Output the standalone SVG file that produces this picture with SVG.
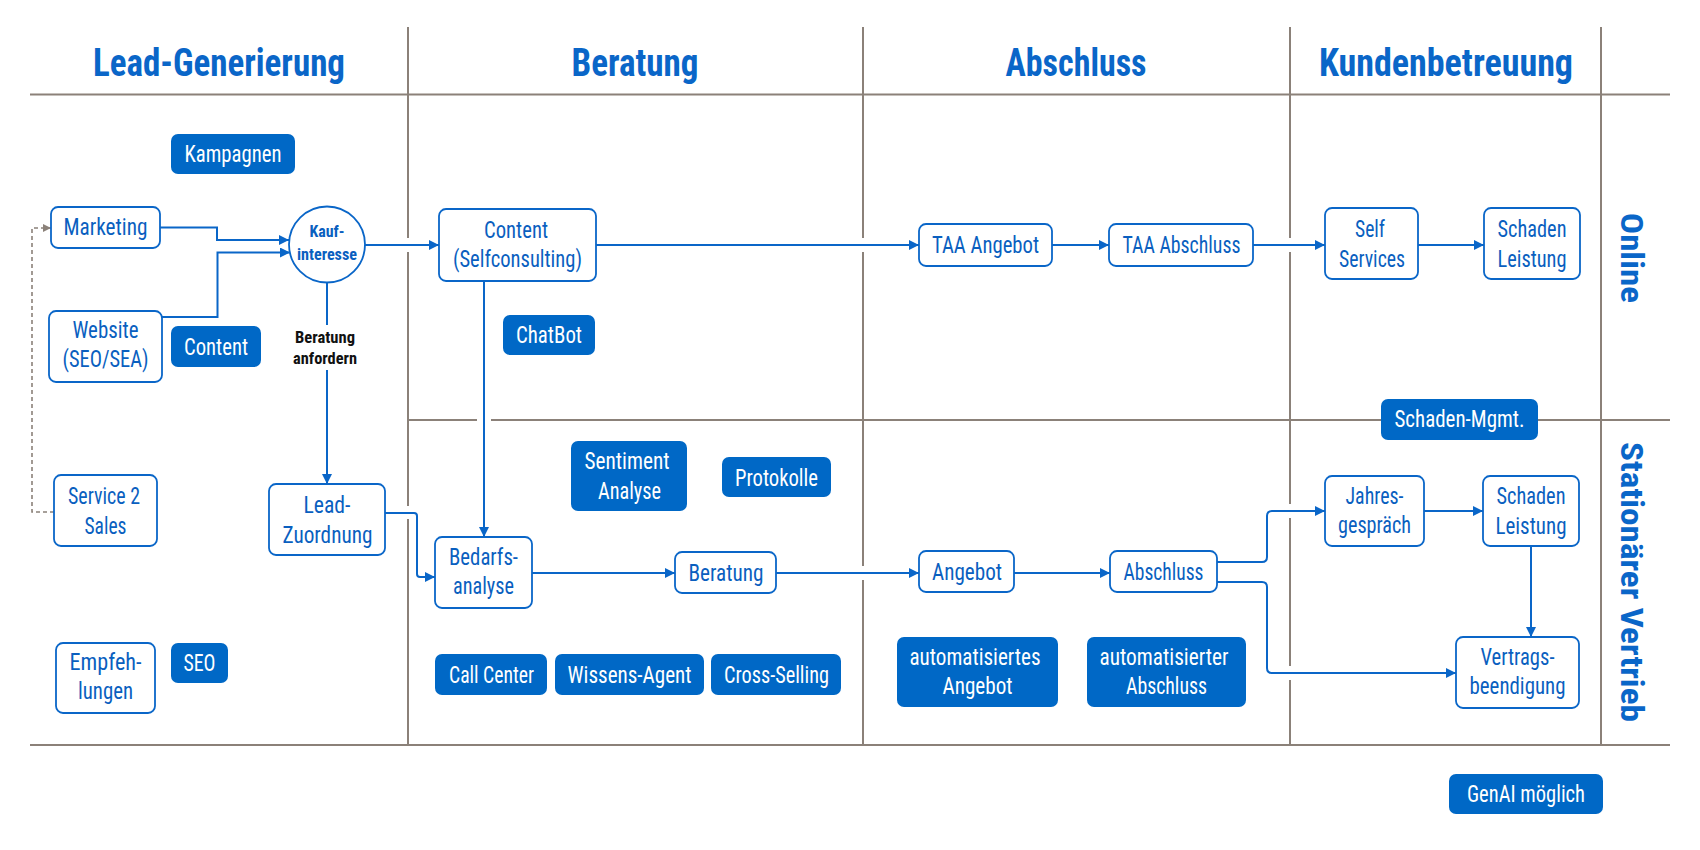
<svg xmlns="http://www.w3.org/2000/svg" width="1700" height="850" viewBox="0 0 1700 850">
<style>
text{font-family:"Liberation Sans Narrow","Roboto Condensed","DejaVu Sans Condensed","Liberation Sans",Arial,sans-serif;text-anchor:middle}
.grid{stroke:#8b8179;stroke-width:2;fill:none}
.hd{font-size:38px;font-weight:700;fill:#0a66c8}
.side{font-size:32px;font-weight:700;fill:#0a66c8}
.n rect,.n circle{fill:#fff;stroke:#0a66c8;stroke-width:1.8}
.n text{font-size:24px;fill:#0a5fbf}
.f rect{fill:#0068c6}
.f text{font-size:24px;fill:#fff}
.n .b{font-size:16px;font-weight:700}
.c{stroke:#0a66c8;stroke-width:2;fill:none}
.d{stroke:#8b8179;stroke-width:1.6;fill:none;stroke-dasharray:4 3}
.lbl{font-size:17px;font-weight:700;fill:#111}
</style>
<defs>
<marker id="ar" markerUnits="userSpaceOnUse" markerWidth="10" markerHeight="10" refX="10" refY="5" orient="auto"><path d="M0,0 L10,5 L0,10 z" fill="#0a66c8"/></marker>
<marker id="ag" markerUnits="userSpaceOnUse" markerWidth="8" markerHeight="8" refX="8" refY="4" orient="auto"><path d="M0,0 L8,4 L0,8 z" fill="#8b8179"/></marker>
</defs>
<rect width="1700" height="850" fill="#fff"/>
<g id="grid">
<path class="grid" d="M30,94.5 H1670 M30,745 H1670 M408,420 H477 M491,420 H1670"/>
<path class="grid" d="M408,27 V238 M408,252 V506 M408,519 V745"/>
<path class="grid" d="M863,27 V238 M863,252 V566 M863,580 V745"/>
<path class="grid" d="M1290,27 V238 M1290,252 V504 M1290,518 V666 M1290,680 V745"/>
<path class="grid" d="M1601,27 V745"/>
<text class="hd" x="219" y="76" textLength="252" lengthAdjust="spacingAndGlyphs">Lead-Generierung</text>
<text class="hd" x="635" y="76" textLength="127" lengthAdjust="spacingAndGlyphs">Beratung</text>
<text class="hd" x="1076" y="76" textLength="141" lengthAdjust="spacingAndGlyphs">Abschluss</text>
<text class="hd" x="1446" y="76" textLength="254" lengthAdjust="spacingAndGlyphs">Kundenbetreuung</text>
<text class="side" transform="translate(1621,258) rotate(90)" textLength="90" lengthAdjust="spacingAndGlyphs">Online</text>
<text class="side" transform="translate(1621,582) rotate(90)" textLength="280" lengthAdjust="spacingAndGlyphs">Stationärer Vertrieb</text>
</g>
<g id="connectors">
<path class="d" marker-end="url(#ag)" d="M54,512 H32 V228 H51"/>
<path class="c" marker-end="url(#ar)" d="M160,227.5 H217 V240 H289"/>
<path class="c" marker-end="url(#ar)" d="M162,317 H217.5 V252.5 H290"/>
<path class="c" marker-end="url(#ar)" d="M365,245 H439"/>
<path class="c" marker-end="url(#ar)" d="M596,245 H919"/>
<path class="c" marker-end="url(#ar)" d="M1052,245 H1109"/>
<path class="c" marker-end="url(#ar)" d="M1253,245 H1325"/>
<path class="c" marker-end="url(#ar)" d="M1418,245 H1484"/>
<path class="c" marker-end="url(#ar)" d="M484,281 V537"/>
<path class="c" d="M327,283 V325"/>
<path class="c" marker-end="url(#ar)" d="M327,370 V484"/>
<text class="lbl" x="325" y="343" textLength="60" lengthAdjust="spacingAndGlyphs">Beratung</text>
<text class="lbl" x="325" y="364" textLength="64" lengthAdjust="spacingAndGlyphs">anfordern</text>
<path class="c" marker-end="url(#ar)" d="M385,513 H414 Q417,513 417,516 V574 Q417,577 420,577 H435"/>
<path class="c" marker-end="url(#ar)" d="M532,573 H675"/>
<path class="c" marker-end="url(#ar)" d="M776,573 H919"/>
<path class="c" marker-end="url(#ar)" d="M1014,573 H1110"/>
<path class="c" marker-end="url(#ar)" d="M1217,562 H1262 Q1267,562 1267,557 V516 Q1267,511 1272,511 H1325"/>
<path class="c" marker-end="url(#ar)" d="M1217,582 H1262 Q1267,582 1267,587 V668 Q1267,673 1272,673 H1456"/>
<path class="c" marker-end="url(#ar)" d="M1424,511 H1483"/>
<path class="c" marker-end="url(#ar)" d="M1531,546 V637"/>
</g>
<g id="kampagnen" class="f"><rect x="171" y="134" width="124" height="40" rx="7"/><text x="233" y="162" textLength="97" lengthAdjust="spacingAndGlyphs">Kampagnen</text></g>
<g id="marketing" class="n"><rect x="51" y="207" width="109" height="41" rx="7"/><text x="105.5" y="235" textLength="84" lengthAdjust="spacingAndGlyphs">Marketing</text></g>
<g id="website" class="n"><rect x="49" y="311" width="113" height="71" rx="7"/><text x="105.5" y="338" textLength="66" lengthAdjust="spacingAndGlyphs">Website</text><text x="105.5" y="367" textLength="86" lengthAdjust="spacingAndGlyphs">(SEO/SEA)</text></g>
<g id="content-lead" class="f"><rect x="171" y="326" width="90" height="41" rx="7"/><text x="216" y="355" textLength="64" lengthAdjust="spacingAndGlyphs">Content</text></g>
<g id="kaufinteresse" class="n"><circle cx="327" cy="244.5" r="38"/><text class="b" x="327" y="237" textLength="35" lengthAdjust="spacingAndGlyphs">Kauf-</text><text class="b" x="327" y="260" textLength="60" lengthAdjust="spacingAndGlyphs">interesse</text></g>
<g id="content-self" class="n"><rect x="439" y="209" width="157" height="72" rx="7"/><text x="516" y="238" textLength="64" lengthAdjust="spacingAndGlyphs">Content</text><text x="517.5" y="267" textLength="129" lengthAdjust="spacingAndGlyphs">(Selfconsulting)</text></g>
<g id="chatbot" class="f"><rect x="503" y="315" width="92" height="40" rx="7"/><text x="549" y="343" textLength="66" lengthAdjust="spacingAndGlyphs">ChatBot</text></g>
<g id="taa-angebot" class="n"><rect x="919" y="224" width="133" height="42" rx="7"/><text x="985.5" y="253" textLength="107" lengthAdjust="spacingAndGlyphs">TAA Angebot</text></g>
<g id="taa-abschluss" class="n"><rect x="1109" y="224" width="144" height="42" rx="7"/><text x="1181.5" y="253" textLength="118" lengthAdjust="spacingAndGlyphs">TAA Abschluss</text></g>
<g id="self-services" class="n"><rect x="1325" y="208" width="93" height="71" rx="7"/><text x="1370" y="237" textLength="30" lengthAdjust="spacingAndGlyphs">Self</text><text x="1372" y="267" textLength="66" lengthAdjust="spacingAndGlyphs">Services</text></g>
<g id="schaden-online" class="n"><rect x="1484" y="208" width="96" height="71" rx="7"/><text x="1532" y="237" textLength="69" lengthAdjust="spacingAndGlyphs">Schaden</text><text x="1532" y="267" textLength="69" lengthAdjust="spacingAndGlyphs">Leistung</text></g>
<g id="schaden-mgmt" class="f"><rect x="1381" y="399" width="157" height="41" rx="7"/><text x="1459.5" y="427" textLength="130" lengthAdjust="spacingAndGlyphs">Schaden-Mgmt.</text></g>
<g id="service2sales" class="n"><rect x="54" y="475" width="103" height="71" rx="7"/><text x="104" y="504" textLength="72" lengthAdjust="spacingAndGlyphs">Service 2</text><text x="105.5" y="534" textLength="42" lengthAdjust="spacingAndGlyphs">Sales</text></g>
<g id="lead-zuordnung" class="n"><rect x="269" y="484" width="116" height="71" rx="7"/><text x="327" y="513" textLength="47" lengthAdjust="spacingAndGlyphs">Lead-</text><text x="327.5" y="543" textLength="90" lengthAdjust="spacingAndGlyphs">Zuordnung</text></g>
<g id="empfehlungen" class="n"><rect x="56" y="643" width="99" height="70" rx="7"/><text x="105.5" y="670" textLength="72" lengthAdjust="spacingAndGlyphs">Empfeh-</text><text x="105.5" y="699" textLength="55" lengthAdjust="spacingAndGlyphs">lungen</text></g>
<g id="seo" class="f"><rect x="171" y="643" width="57" height="40" rx="7"/><text x="199.5" y="671" textLength="32" lengthAdjust="spacingAndGlyphs">SEO</text></g>
<g id="bedarfsanalyse" class="n"><rect x="435" y="537" width="97" height="71" rx="7"/><text x="483.5" y="565" textLength="69" lengthAdjust="spacingAndGlyphs">Bedarfs-</text><text x="483.5" y="594" textLength="61" lengthAdjust="spacingAndGlyphs">analyse</text></g>
<g id="sentiment" class="f"><rect x="571" y="441" width="116" height="70" rx="7"/><text x="627" y="469" textLength="85" lengthAdjust="spacingAndGlyphs">Sentiment</text><text x="629.5" y="499" textLength="63" lengthAdjust="spacingAndGlyphs">Analyse</text></g>
<g id="protokolle" class="f"><rect x="722" y="457" width="109" height="40" rx="7"/><text x="776.5" y="486" textLength="83" lengthAdjust="spacingAndGlyphs">Protokolle</text></g>
<g id="beratung" class="n"><rect x="675" y="552" width="101" height="41" rx="7"/><text x="726" y="581" textLength="75" lengthAdjust="spacingAndGlyphs">Beratung</text></g>
<g id="callcenter" class="f"><rect x="435" y="654" width="112" height="41" rx="7"/><text x="491.5" y="683" textLength="85" lengthAdjust="spacingAndGlyphs">Call Center</text></g>
<g id="wissens-agent" class="f"><rect x="555" y="654" width="149" height="41" rx="7"/><text x="629.5" y="683" textLength="124" lengthAdjust="spacingAndGlyphs">Wissens-Agent</text></g>
<g id="cross-selling" class="f"><rect x="711" y="654" width="130" height="41" rx="7"/><text x="776.5" y="683" textLength="105" lengthAdjust="spacingAndGlyphs">Cross-Selling</text></g>
<g id="angebot" class="n"><rect x="919" y="551" width="95" height="41" rx="7"/><text x="967" y="580" textLength="70" lengthAdjust="spacingAndGlyphs">Angebot</text></g>
<g id="abschluss" class="n"><rect x="1110" y="551" width="107" height="41" rx="7"/><text x="1163.5" y="580" textLength="80" lengthAdjust="spacingAndGlyphs">Abschluss</text></g>
<g id="auto-angebot" class="f"><rect x="897" y="637" width="161" height="70" rx="7"/><text x="975" y="665" textLength="131" lengthAdjust="spacingAndGlyphs">automatisiertes</text><text x="977.5" y="694" textLength="70" lengthAdjust="spacingAndGlyphs">Angebot</text></g>
<g id="auto-abschluss" class="f"><rect x="1087" y="637" width="159" height="70" rx="7"/><text x="1164" y="665" textLength="129" lengthAdjust="spacingAndGlyphs">automatisierter</text><text x="1166.5" y="694" textLength="81" lengthAdjust="spacingAndGlyphs">Abschluss</text></g>
<g id="jahresgespraech" class="n"><rect x="1325" y="476" width="99" height="70" rx="7"/><text x="1374.5" y="504" textLength="58" lengthAdjust="spacingAndGlyphs">Jahres-</text><text x="1374.5" y="533" textLength="73" lengthAdjust="spacingAndGlyphs">gespräch</text></g>
<g id="schaden-stationaer" class="n"><rect x="1483" y="476" width="96" height="70" rx="7"/><text x="1531" y="504" textLength="69" lengthAdjust="spacingAndGlyphs">Schaden</text><text x="1531" y="534" textLength="71" lengthAdjust="spacingAndGlyphs">Leistung</text></g>
<g id="vertragsbeendigung" class="n"><rect x="1456" y="637" width="123" height="71" rx="7"/><text x="1517.5" y="665" textLength="74" lengthAdjust="spacingAndGlyphs">Vertrags-</text><text x="1517.5" y="694" textLength="96" lengthAdjust="spacingAndGlyphs">beendigung</text></g>
<g id="genai" class="f"><rect x="1449" y="774" width="154" height="40" rx="7"/><text x="1526" y="802" textLength="118" lengthAdjust="spacingAndGlyphs">GenAI möglich</text></g>
</svg>
